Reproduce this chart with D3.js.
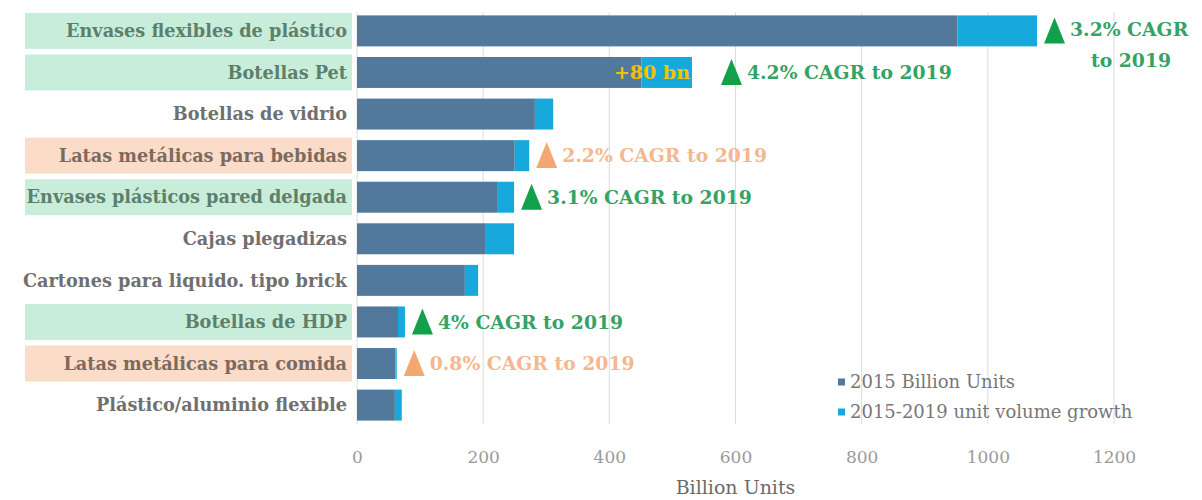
<!DOCTYPE html>
<html>
<head>
<meta charset="utf-8">
<script src="https://cdn.jsdelivr.net/npm/d3@7"></script>
<style>
  html, body { margin: 0; padding: 0; background: #ffffff; }
  svg { display: block; }
  text { font-family: "DejaVu Serif", "Liberation Serif", serif; }
</style>
</head>
<body>
<svg id="chart" width="1202" height="500"></svg>
<script>
// Packaging units by type: 2015 volume and 2015-2019 growth (billion units)
const categories = [
  "Envases flexibles de plástico",
  "Botellas Pet",
  "Botellas de vidrio",
  "Latas metálicas para bebidas",
  "Envases plásticos pared delgada",
  "Cajas plegadizas",
  "Cartones para liquido. tipo brick",
  "Botellas de HDP",
  "Latas metálicas para comida",
  "Plástico/aluminio flexible"
];
const units2015 = [952, 451, 282, 250, 222, 203, 171, 65, 61, 60];
const growth2019 = [126, 80, 29, 23, 27, 46, 21, 11, 2, 11];

// Row highlight: "up" = strong growth, "low" = weak growth, null = none
const highlight = ["up", "up", null, "low", "up", null, null, "up", "low", null];

// CAGR callouts (null where no callout)
const cagrLabels = [
  ["3.2% CAGR", "to 2019"],
  ["4.2% CAGR to 2019"],
  null,
  ["2.2% CAGR to 2019"],
  ["3.1% CAGR to 2019"],
  null,
  null,
  ["4% CAGR to 2019"],
  ["0.8% CAGR to 2019"],
  null
];
const growthTag = ["", "+80 bn", "", "", "", "", "", "", "", ""];

const xTicks = [0, 200, 400, 600, 800, 1000, 1200];
const seriesNames = ["2015 Billion Units", "2015-2019 unit volume growth"];
const axisTitle = "Billion Units";

const colors = {
  base: "#52799b",
  growth: "#17a9dc",
  grid: "#dcdcdc",
  label: "#707070",
  tick: "#9a9a9a",
  upBg: "#c8eedb",
  lowBg: "#fbdcc8",
  upText: "#5d7f6c",
  lowText: "#7d6a5f",
  upMark: "#12a04a",
  upFont: "#34a365",
  lowMark: "#f4a871",
  lowFont: "#f3b88f",
  tag: "#f2c200"
};

const svg = d3.select("#chart");

const x = d3.scaleLinear().domain([0, 1200]).range([357, 1114]);
const y = d3.scaleBand().domain(categories).range([10, 426]).paddingInner(0.255).paddingOuter(0.13);

// gridlines
svg.append("g")
  .selectAll("line")
  .data(xTicks)
  .join("line")
  .attr("x1", d => x(d)).attr("x2", d => x(d))
  .attr("y1", 12).attr("y2", 424)
  .attr("stroke", colors.grid)
  .attr("stroke-width", 1);

// category highlight bands
svg.append("g")
  .selectAll("rect")
  .data(categories.map((c, i) => ({ c, h: highlight[i] })).filter(d => d.h))
  .join("rect")
  .attr("x", 25)
  .attr("width", 327)
  .attr("y", d => y(d.c) + y.bandwidth() / 2 - 18)
  .attr("height", 36)
  .attr("fill", d => d.h === "up" ? colors.upBg : colors.lowBg);

// category labels
svg.append("g")
  .selectAll("text")
  .data(categories)
  .join("text")
  .attr("x", 347)
  .attr("y", d => y(d) + y.bandwidth() / 2)
  .attr("dy", "0.35em")
  .attr("text-anchor", "end")
  .attr("font-size", 17.7)
  .attr("font-weight", "bold")
  .attr("fill", (d, i) => highlight[i] === "up" ? colors.upText : highlight[i] === "low" ? colors.lowText : colors.label)
  .text(d => d);

// stacked bars
const rows = categories.map((c, i) => ({ c, base: units2015[i], grow: growth2019[i] }));
const bars = svg.append("g");
bars.selectAll("rect.base")
  .data(rows)
  .join("rect")
  .attr("class", "base")
  .attr("x", x(0))
  .attr("y", d => y(d.c))
  .attr("width", d => x(d.base) - x(0))
  .attr("height", y.bandwidth())
  .attr("fill", colors.base);
bars.selectAll("rect.grow")
  .data(rows)
  .join("rect")
  .attr("class", "grow")
  .attr("x", d => x(d.base))
  .attr("y", d => y(d.c))
  .attr("width", d => x(d.base + d.grow) - x(d.base))
  .attr("height", y.bandwidth())
  .attr("fill", colors.growth);

// growth tag inside the PET bar
svg.append("g")
  .selectAll("text")
  .data(rows.map((r, i) => ({ ...r, tag: growthTag[i] })).filter(d => d.tag))
  .join("text")
  .attr("x", d => x(d.base + d.grow) - 2)
  .attr("y", d => y(d.c) + y.bandwidth() / 2)
  .attr("dy", "0.35em")
  .attr("text-anchor", "end")
  .attr("font-size", 19)
  .attr("font-weight", "bold")
  .attr("fill", colors.tag)
  .text(d => d.tag);

// CAGR callouts: triangle marker followed by text
const extraGap = { 1: 22 };
const callouts = svg.append("g");
rows.forEach((r, i) => {
  const lines = cagrLabels[i];
  if (!lines) return;
  const isUp = highlight[i] === "up";
  const tx = x(r.base + r.grow) + 7 + (extraGap[i] || 0);
  const by = y(r.c) + y.bandwidth() - 3;
  const tri = d3.path();
  tri.moveTo(tx, by);
  tri.lineTo(tx + 21, by);
  tri.lineTo(tx + 10.5, by - 26);
  tri.closePath();
  callouts.append("path").attr("d", tri.toString()).attr("fill", isUp ? colors.upMark : colors.lowMark);
  const cy = y(r.c) + y.bandwidth() / 2;
  const t = callouts.append("text")
    .attr("font-size", 18.8)
    .attr("font-weight", "bold")
    .attr("fill", isUp ? colors.upFont : colors.lowFont)
    .attr("x", tx + 26)
    .attr("dy", "0.35em")
    .text(lines[0]);
  if (lines.length === 1) {
    t.attr("y", cy);
  } else {
    t.attr("y", cy - 1);
    callouts.append("text")
      .attr("font-size", 18.8)
      .attr("font-weight", "bold")
      .attr("fill", colors.upFont)
      .attr("x", tx + 87).attr("y", cy + 30).attr("dy", "0.35em")
      .attr("text-anchor", "middle")
      .text(lines[1]);
  }
});

// x axis labels
const xAxis = svg.append("g").attr("transform", "translate(0,457)")
  .call(d3.axisBottom(x).tickValues(xTicks).tickFormat(d3.format("d")).tickSize(0).tickPadding(0));
xAxis.select(".domain").remove();
xAxis.selectAll("text")
  .attr("font-family", "DejaVu Serif, serif")
  .attr("font-size", 17)
  .attr("fill", colors.tick)
  .attr("dy", "0.35em")
  .attr("y", 0);

svg.append("text")
  .attr("x", (x(0) + x(1200)) / 2)
  .attr("y", 487)
  .attr("dy", "0.35em")
  .attr("text-anchor", "middle")
  .attr("font-size", 19)
  .attr("fill", "#6a6a6a")
  .text(axisTitle);

// legend
const legend = svg.append("g").attr("transform", "translate(838,382)");
seriesNames.forEach((name, i) => {
  const g = legend.append("g").attr("transform", `translate(0,${i * 30})`);
  g.append("rect").attr("x", 0).attr("y", -3.5).attr("width", 7).attr("height", 7)
    .attr("fill", i === 0 ? colors.base : colors.growth);
  g.append("text").attr("x", 12).attr("y", 0).attr("dy", "0.35em")
    .attr("font-size", 18).attr("fill", "#777777").text(name);
});
</script>
</body>
</html>
